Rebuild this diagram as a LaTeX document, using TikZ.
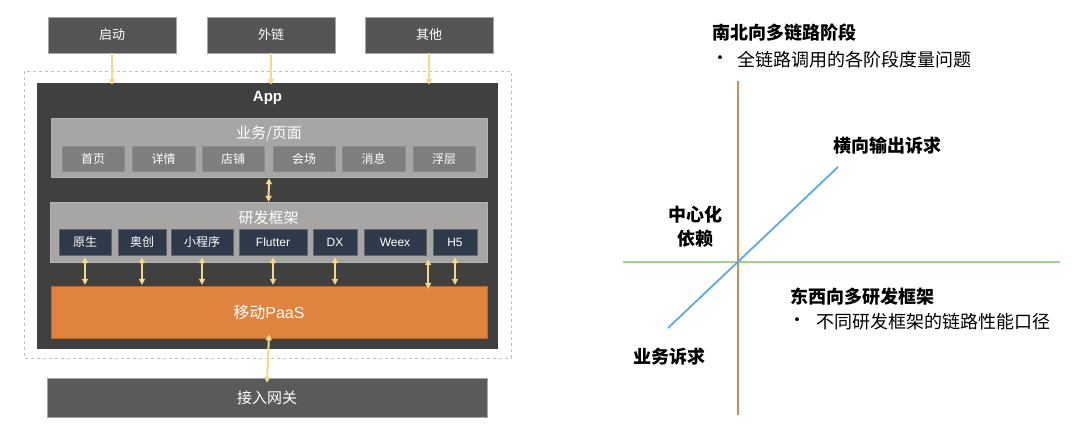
\documentclass[tikz,border=0pt]{standalone}
\usepackage{fontspec}
\setmainfont{Noto Sans CJK SC}
\newfontfamily\latfont{Liberation Sans}
\usetikzlibrary{arrows.meta}
\definecolor{topgray}{HTML}{555555}
\definecolor{appgray}{HTML}{404040}
\definecolor{bizgray}{HTML}{A8A5A5}
\definecolor{subgray}{HTML}{7E7E7E}
\definecolor{navy}{HTML}{2E394A}
\definecolor{paasorange}{HTML}{E0833F}
\definecolor{gwgray}{HTML}{5A5A5A}
\definecolor{arrowyellow}{HTML}{F5D98A}
\definecolor{vline}{HTML}{D58B4F}
\definecolor{hline}{HTML}{A0D77E}
\definecolor{dline}{HTML}{5DA8E8}
\begin{document}
\begin{tikzpicture}[x=1pt,y=-1pt,
  topbox/.style={draw=gray!70, fill=topgray, text=white, inner sep=0, font=\fontsize{13}{15}\selectfont},
  subbox/.style={draw=gray!90, fill=subgray, text=white, inner sep=0, minimum height=25, font=\fontsize{12}{14}\selectfont},
  fwbox/.style={draw=gray!80!black, fill=navy, text=white, inner sep=0, minimum height=26, font=\fontsize{12}{14}\selectfont},
  layer/.style={draw=gray!60, fill=bizgray, inner sep=0},
  ttl/.style={text=white, font=\fontsize{15}{17}\selectfont},
  tip/.tip={Triangle[width=6pt,length=6pt]},
  down/.style={draw=arrowyellow, line width=2pt, -tip},
  dbl/.style={draw=arrowyellow, line width=2pt, tip-tip},
  rtext/.style={text=black, font=\fontsize{18}{22}\selectfont, inner sep=0},
  rbold/.style={text=black, font=\fontsize{18}{22}\selectfont\bfseries, inner sep=0}
]
\useasboundingbox[fill=white] (0,0) rectangle (1080,442);

% dashed frame
\draw[gray!50, dashed, line width=0.8pt] (24,71) rectangle (511,358);

% top boxes
\node[topbox, minimum width=128, minimum height=36] (qd) at (112,35) {启动};
\node[topbox, minimum width=128, minimum height=36] (wl) at (271,35) {外链};
\node[topbox, minimum width=128, minimum height=36] (qt) at (429,35) {其他};

% app
\node[fill=appgray, inner sep=0, minimum width=461, minimum height=266] (app) at (267.5,216) {};
\node[text=white, font=\fontsize{15}{17}\selectfont\latfont\bfseries] (apptitle) at (267.5,98) {App};

% business layer
\node[layer, minimum width=436, minimum height=59] (biz) at (269,147.5) {};
\node[ttl] (biztitle) at (269,134) {业务/页面};
\node[subbox, minimum width=62] (s1) at (93,158.5) {首页};
\node[subbox, minimum width=63] (s2) at (163.5,158.5) {详情};
\node[subbox, minimum width=62] (s3) at (233,158.5) {店铺};
\node[subbox, minimum width=62] (s4) at (304,158.5) {会场};
\node[subbox, minimum width=63] (s5) at (373.5,158.5) {消息};
\node[subbox, minimum width=62] (s6) at (444,158.5) {浮层};

% framework layer
\node[layer, minimum width=437, minimum height=60] (fw) at (268.5,232) {};
\node[ttl] (fwtitle) at (268.5,218) {研发框架};
\node[fwbox, minimum width=52] (f1) at (85,242) {原生};
\node[fwbox, minimum width=48] (f2) at (142,242) {奥创};
\node[fwbox, minimum width=62] (f3) at (202,242) {小程序};
\node[fwbox, minimum width=68, font=\fontsize{12}{14}\selectfont\latfont] (f4) at (273,242) {Flutter};
\node[fwbox, minimum width=44, font=\fontsize{12}{14}\selectfont\latfont] (f5) at (335,242) {DX};
\node[fwbox, minimum width=62, font=\fontsize{12}{14}\selectfont\latfont] (f6) at (395,242) {Weex};
\node[fwbox, minimum width=44, font=\fontsize{12}{14}\selectfont\latfont] (f7) at (455,242) {H5};

% PaaS
\node[draw=paasorange!80!black, fill=paasorange, text=white, inner sep=0, minimum width=436, minimum height=52, font=\fontsize{16}{18}\selectfont] (paas) at (269,312) {移动{\latfont PaaS}};

% gateway
\node[draw=gray!70, fill=gwgray, text=white, inner sep=0, minimum width=440, minimum height=39, font=\fontsize{15}{17}\selectfont] (gw) at (267,397.5) {接入网关};

% arrows top
\draw[down] (qd.south) -- ([yshift=-2]qd.south |- app.north);
\draw[down] (wl.south) -- ([yshift=-2]wl.south |- app.north);
\draw[down] (qt.south) -- ([yshift=-2]qt.south |- app.north);

% biz to fw
\draw[dbl] ([yshift=-1]biz.south) -- (fw.north);

% fw to paas
\draw[dbl] ([yshift=-2]f1.south) -- ([yshift=1]f1.south |- paas.north);
\draw[dbl] ([yshift=-2]f2.south) -- ([yshift=1]f2.south |- paas.north);
\draw[dbl] ([yshift=-2]f3.south) -- ([yshift=1]f3.south |- paas.north);
\draw[dbl] ([yshift=-2]f4.south) -- ([yshift=1]f4.south |- paas.north);
\draw[dbl] ([yshift=-2]f5.south) -- ([yshift=1]f5.south |- paas.north);
\coordinate (wxa) at ([xshift=2,yshift=-4]f6.south east);
\draw[dbl] (wxa) -- ([yshift=-3]wxa |- paas.north);
\draw[dbl] ([yshift=-2]f7.south) -- ([yshift=1]f7.south |- paas.north);

% paas to gateway
\draw[dbl] ([yshift=4]paas.south) -- ([yshift=-5]gw.north);

% ===== right side =====
\coordinate (vt) at (738,81);
\coordinate (vb) at (738,415);
\coordinate (hl) at (623,262);
\coordinate (hr) at (1060,262);
\coordinate (dl) at (668,328);
\coordinate (dr) at (838,167);
\draw[vline, line width=1.8pt] (vt) -- (vb);
\draw[hline, line width=1.8pt] (hl) -- (hr);
\draw[dline, line width=1.8pt] (dl) -- (dr);

\node[rbold, anchor=west] (ns) at (712,33) {南北向多链路阶段};
\node[rtext, anchor=west] (nsb) at (711,60) {•};
\node[rtext, anchor=west] (nst) at (737,60) {全链路调用的各阶段度量问题};
\node[rbold, anchor=west] (hx) at (833,146) {横向输出诉求};
\node[rbold, align=center, font=\fontsize{18}{24}\selectfont\bfseries] (zx) at (695,227) {中心化\\依赖};
\node[rbold, anchor=west] (dx) at (790,297) {东西向多研发框架};
\node[rtext, anchor=west] (dxb) at (788,322) {•};
\node[rtext, anchor=west] (dxt) at (816,322) {不同研发框架的链路性能口径};
\node[rbold, anchor=west] (yw) at (633,357) {业务诉求};
\end{tikzpicture}
\end{document}
